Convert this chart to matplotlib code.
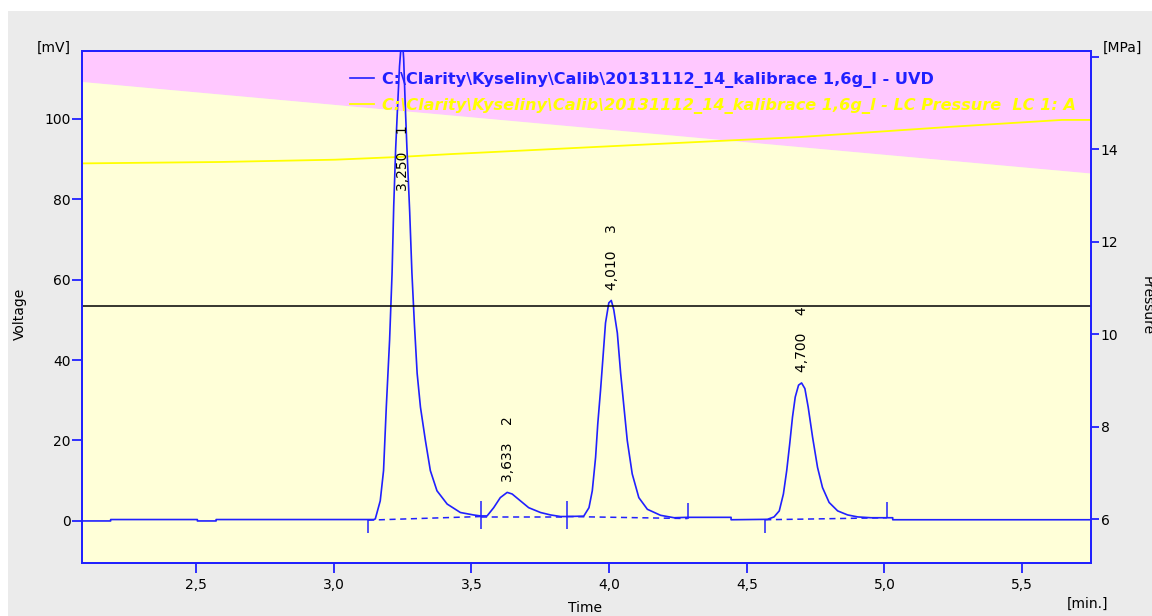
import matplotlib.pyplot as plt
from matplotlib.patches import Rectangle
from matplotlib.ticker import FuncFormatter

# --- UVD detector trace [min] / [mV] ---
uvd_time = [2.086, 2.19, 2.19, 2.505, 2.505, 2.573, 2.573, 3.145,
            3.151, 3.169, 3.181, 3.191, 3.203, 3.212, 3.218, 3.225, 3.232, 3.239, 3.248,
            3.254, 3.26, 3.266, 3.276, 3.284, 3.293, 3.303, 3.315, 3.333, 3.351, 3.375,
            3.412, 3.46, 3.507, 3.533,
            3.557, 3.581, 3.605, 3.63, 3.648, 3.678, 3.708, 3.751, 3.787, 3.824, 3.848, 3.908,
            3.927, 3.939, 3.951, 3.959, 3.969, 3.978, 3.987, 3.999, 4.008, 4.017, 4.03,
            4.042, 4.054, 4.066, 4.084, 4.108, 4.139, 4.187, 4.236, 4.284, 4.443, 4.443,
            4.575, 4.599, 4.618, 4.633, 4.645, 4.656, 4.666, 4.676, 4.688, 4.699, 4.711,
            4.723, 4.739, 4.757, 4.775, 4.799, 4.83, 4.866, 4.903, 4.951, 5.03, 5.03, 5.75]
uvd_mv = [0.0, 0.0, 0.35, 0.35, 0.0, 0.0, 0.35, 0.35,
          0.5, 5.0, 12.5, 28.3, 45.0, 61.7, 78.3, 92.5, 103.0, 113.0, 121.0,
          115.0, 103.0, 92.5, 76.7, 61.7, 49.0, 36.7, 28.3, 20.0, 12.5, 7.5,
          4.2, 2.1, 1.5, 1.25,
          1.25, 3.3, 5.8, 7.1, 6.7, 5.0, 3.3, 2.1, 1.5, 1.1, 1.1, 1.2,
          3.3, 7.5, 15.8, 24.2, 32.5, 40.8, 49.2, 54.2, 54.8, 52.5, 46.7,
          36.7, 28.3, 20.0, 11.7, 5.8, 2.9, 1.4, 0.8, 0.9, 0.9, 0.3,
          0.4, 1.0, 2.5, 6.7, 12.5, 19.2, 25.8, 30.8, 33.75, 34.3, 32.9,
          28.3, 20.8, 13.3, 8.3, 4.6, 2.5, 1.5, 1.0, 0.8, 0.8, 0.3, 0.3]

# --- LC pressure trace [MPa] ---
press_time = [2.086, 2.584, 3.005, 3.241, 3.422, 3.967, 4.693, 5.238, 5.645, 5.75]
press_mpa = [13.69, 13.72, 13.77, 13.83, 13.89, 14.05, 14.26, 14.48, 14.63, 14.63]

# background boundary (pink above / yellow below), on the pressure scale
zone_time = [2.086, 5.75]
zone_mpa = [15.46, 13.48]

# --- peak table ---
peak_num = [1, 2, 3, 4]
peak_rt = [3.250, 3.633, 4.010, 4.700]
peak_height = [121.0, 7.1, 54.8, 34.3]
peak_start = [3.125, 3.535, 3.849, 4.567]
peak_end = [3.535, 3.849, 4.285, 5.009]
base_start_mv = [0.2, 1.1, 1.1, 0.3]
base_end_mv = [1.1, 1.1, 0.6, 0.8]

threshold_mv = 53.3

file_label = "C:\\Clarity\\Kyseliny\\Calib\\20131112_14_kalibrace 1,6g_l"

BLUE = "#2020ff"
PINK = "#ffc8ff"
PALE = "#ffffd8"
YELLOW = "#ffff00"

plt.rcParams["font.family"] = "DejaVu Sans"
plt.rcParams["font.size"] = 10

W, H = 1152, 616
fig = plt.figure(figsize=(W / 100, H / 100), dpi=100, facecolor="white")
fig.add_artist(Rectangle((8 / W, 0), 1, 1 - 11 / H, transform=fig.transFigure,
                         facecolor="#ebebeb", edgecolor="none", zorder=-10))

ax = fig.add_axes([82 / W, 1 - 563 / H, (1091 - 82) / W, (563 - 51) / H])
ax2 = ax.twinx()
ax.set_zorder(ax2.get_zorder() + 1)
ax.patch.set_visible(False)

# background zones
p_lo, p_hi = 5.05, 16.12
ax2.set_ylim(p_lo, p_hi)
ax2.fill_between(zone_time, zone_mpa, p_hi, color=PINK, lw=0)
ax2.fill_between(zone_time, p_lo, zone_mpa, color=PALE, lw=0)
p_line, = ax2.plot(press_time, press_mpa, color=YELLOW, lw=1.3)

# chromatogram
u_line, = ax.plot(uvd_time, uvd_mv, color=BLUE, lw=1.2)
ax.axhline(threshold_mv, color="black", lw=1.1)

for i in range(len(peak_num)):
    ax.plot([peak_start[i], peak_end[i]], [base_start_mv[i], base_end_mv[i]],
            color=BLUE, lw=1.1, dashes=(4, 3))
    ax.vlines(peak_start[i], base_start_mv[i] - 3.2, base_start_mv[i], color=BLUE, lw=1.1)
    ax.vlines(peak_end[i], base_end_mv[i], base_end_mv[i] + 3.8, color=BLUE, lw=1.1)
    label = f"{peak_rt[i]:.3f}".replace(".", ",") + "    " + str(peak_num[i])
    ax.text(peak_rt[i], min(peak_height[i] + 2.6, 82.0), label, rotation=90,
            ha="center", va="bottom", fontsize=10, color="black")

ax.set_xlim(2.086, 5.75)
ax.set_ylim(-10.45, 116.8)
ax.set_xticks([2.5, 3.0, 3.5, 4.0, 4.5, 5.0, 5.5])
ax.set_yticks([0, 20, 40, 60, 80, 100])
ax2.set_yticks([6, 8, 10, 12, 14, 16])
ax.xaxis.set_major_formatter(FuncFormatter(lambda v, p: f"{v:.1f}".replace(".", ",")))
ax2.yaxis.set_major_formatter(FuncFormatter(lambda v, p: "" if v > 15 else f"{v:.0f}"))

for a in (ax, ax2):
    for s in a.spines.values():
        s.set_color(BLUE)
        s.set_linewidth(1.3)
ax.tick_params(axis="y", direction="out", length=7, width=1.3, color=BLUE, pad=1)
ax.tick_params(axis="x", direction="out", length=7, width=1.3, color=BLUE, pad=4)
ax2.tick_params(axis="y", direction="out", length=6, width=1.3, color=BLUE, pad=1)

leg = ax.legend([u_line, p_line], [file_label + " - UVD", file_label + " - LC Pressure  LC 1: A"],
                loc="upper left", bbox_to_anchor=(342 / W, 1 - 64 / H),
                bbox_transform=fig.transFigure, frameon=False, borderpad=0,
                handlelength=1.5, handletextpad=0.5, labelspacing=0.6,
                prop={"weight": "bold", "size": 11.6})
leg.get_texts()[0].set_color(BLUE)
leg.get_texts()[1].set_color(YELLOW)
leg.get_texts()[1].set_style("italic")

fig.text(20 / W, 1 - 314 / H, "Voltage", rotation=90, ha="center", va="center")
fig.text(1147 / W, 1 - 306 / H, "Pressure", rotation=-90, ha="center", va="center")
fig.text(585 / W, 1 - 608 / H, "Time", ha="center", va="center")
fig.text(54 / W, 1 - 48 / H, "[mV]", ha="center", va="center")
fig.text(1122 / W, 1 - 48 / H, "[MPa]", ha="center", va="center")
fig.text(1088 / W, 1 - 604 / H, "[min.]", ha="center", va="center")

fig.savefig("out.png", dpi=100, facecolor=fig.get_facecolor())
